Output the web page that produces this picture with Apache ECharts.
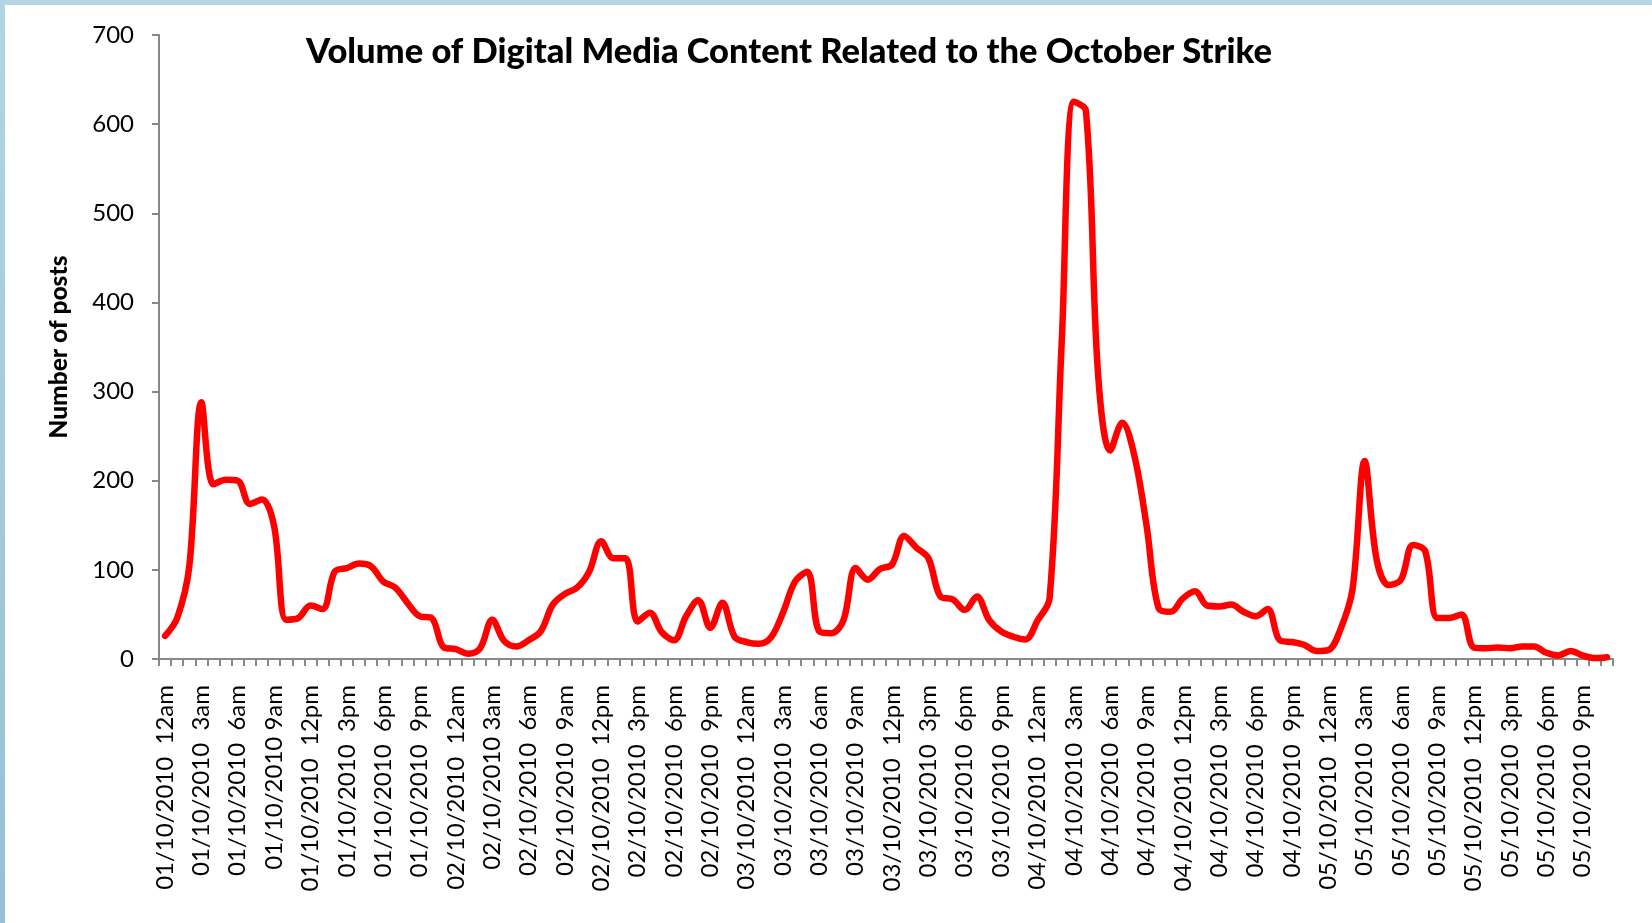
<!DOCTYPE html>
<html>
<head>
<meta charset="utf-8">
<title>Volume of Digital Media Content Related to the October Strike</title>
<script src="https://cdn.jsdelivr.net/npm/echarts@6/dist/echarts.min.js"></script>
<style>
  html, body { margin: 0; padding: 0; background: #ffffff; }
  #chart { width: 1652px; height: 923px; }
</style>
</head>
<body>
<div id="chart"></div>
<script>
// Hourly post counts, 01/10/2010 12am through 05/10/2010 11pm
const days = ['01/10/2010', '02/10/2010', '03/10/2010', '04/10/2010', '05/10/2010'];
const hours = ['12am', '1am', '2am', '3am', '4am', '5am', '6am', '7am', '8am', '9am', '10am', '11am',
               '12pm', '1pm', '2pm', '3pm', '4pm', '5pm', '6pm', '7pm', '8pm', '9pm', '10pm', '11pm'];

const postsDay1 = [26, 46, 104, 288, 196, 201, 200, 174, 179, 149, 44, 46, 60, 56, 98, 102, 107, 104, 87, 80, 63, 48, 46, 13];
const postsDay2 = [11, 6, 12, 44, 20, 14, 21, 31, 61, 73, 80, 98, 132, 113, 113, 42, 52, 30, 21, 48, 66, 35, 63, 25];
const postsDay3 = [19, 17, 24, 52, 87, 98, 31, 29, 44, 102, 89, 101, 106, 138, 125, 113, 70, 67, 55, 70, 44, 31, 25, 22];
const postsDay4 = [43, 68, 355, 625, 615, 320, 234, 265, 228, 150, 57, 53, 68, 76, 60, 59, 61, 53, 48, 56, 21, 19, 16, 9];
const postsDay5 = [10, 33, 78, 222, 111, 83, 89, 128, 121, 46, 46, 50, 13, 12, 13, 12, 14, 14, 7, 4, 9, 4, 1, 2];

// Labels printed under every third hour
const tickLabels = [
  '01/10/2010  12am', '01/10/2010  3am', '01/10/2010  6am', '01/10/2010 9am',
  '01/10/2010  12pm', '01/10/2010  3pm', '01/10/2010  6pm', '01/10/2010  9pm',
  '02/10/2010  12am', '02/10/2010 3am', '02/10/2010  6am', '02/10/2010  9am',
  '02/10/2010  12pm', '02/10/2010  3pm', '02/10/2010  6pm', '02/10/2010  9pm',
  '03/10/2010  12am', '03/10/2010  3am', '03/10/2010  6am', '03/10/2010  9am',
  '03/10/2010  12pm', '03/10/2010  3pm', '03/10/2010  6pm', '03/10/2010  9pm',
  '04/10/2010  12am', '04/10/2010  3am', '04/10/2010  6am', '04/10/2010  9am',
  '04/10/2010  12pm', '04/10/2010  3pm', '04/10/2010  6pm', '04/10/2010  9pm',
  '05/10/2010  12am', '05/10/2010  3am', '05/10/2010  6am', '05/10/2010  9am',
  '05/10/2010  12pm', '05/10/2010  3pm', '05/10/2010  6pm', '05/10/2010  9pm'
];

const yTicks = [0, 100, 200, 300, 400, 500, 600, 700];

const categories = [];
days.forEach(d => hours.forEach(h => categories.push(d + '  ' + h)));
const posts = [].concat(postsDay1, postsDay2, postsDay3, postsDay4, postsDay5);

const axisGrey = '#878787';
const fontFamily = 'Lato, "Open Sans", sans-serif';

const chart = echarts.init(document.getElementById('chart'), null, { renderer: 'canvas' });

chart.setOption({
  backgroundColor: '#ffffff',
  animation: false,
  title: {
    text: 'Volume of Digital Media Content Related to the October Strike',
    left: 784,
    textAlign: 'center',
    top: 27,
    textStyle: {
      fontFamily: fontFamily,
      fontWeight: 900,
      fontSize: 34.5,
      lineHeight: 40,
      color: '#000000'
    }
  },
  graphic: [
    {
      type: 'rect',
      shape: { x: 0, y: 0, width: 1652, height: 5 },
      style: { fill: '#b6d6e3' },
      silent: true
    },
    {
      type: 'rect',
      shape: { x: 0, y: 0, width: 5, height: 923 },
      style: {
        fill: new echarts.graphic.LinearGradient(0, 0, 0, 1, [
          { offset: 0, color: '#b3d4e2' },
          { offset: 1, color: '#95c0d5' }
        ])
      },
      silent: true
    }
  ],
  grid: {
    left: 159,
    right: 39,
    top: 35,
    bottom: 264,
    containLabel: false
  },
  xAxis: {
    type: 'category',
    data: categories,
    boundaryGap: true,
    axisLine: { show: true, lineStyle: { color: axisGrey, width: 2 } },
    axisTick: {
      show: true,
      interval: 0,
      alignWithLabel: false,
      length: 7,
      lineStyle: { color: axisGrey, width: 2 }
    },
    axisLabel: {
      interval: 2,
      rotate: 90,
      margin: 26,
      fontFamily: fontFamily,
      fontSize: 24,
      color: '#000000',
      formatter: (value, index) => tickLabels[Math.round(index / 3)]
    },
    splitLine: { show: false }
  },
  yAxis: {
    type: 'value',
    min: yTicks[0],
    max: yTicks[yTicks.length - 1],
    interval: 100,
    name: 'Number of posts',
    nameLocation: 'middle',
    nameGap: 87,
    nameRotate: 90,
    nameTextStyle: {
      fontFamily: fontFamily,
      fontWeight: 900,
      fontSize: 24.5,
      color: '#000000'
    },
    axisLine: { show: true, lineStyle: { color: axisGrey, width: 2 } },
    axisTick: { show: true, length: 7, lineStyle: { color: axisGrey, width: 2 } },
    axisLabel: {
      margin: 25,
      fontFamily: fontFamily,
      fontSize: 24,
      color: '#000000'
    },
    splitLine: { show: false }
  },
  series: [
    {
      type: 'line',
      data: posts,
      smooth: 0.35,
      showSymbol: false,
      symbol: 'none',
      lineStyle: { color: '#ff0000', width: 6.5, cap: 'round', join: 'round' },
      itemStyle: { color: '#ff0000' }
    }
  ]
});
</script>
</body>
</html>
